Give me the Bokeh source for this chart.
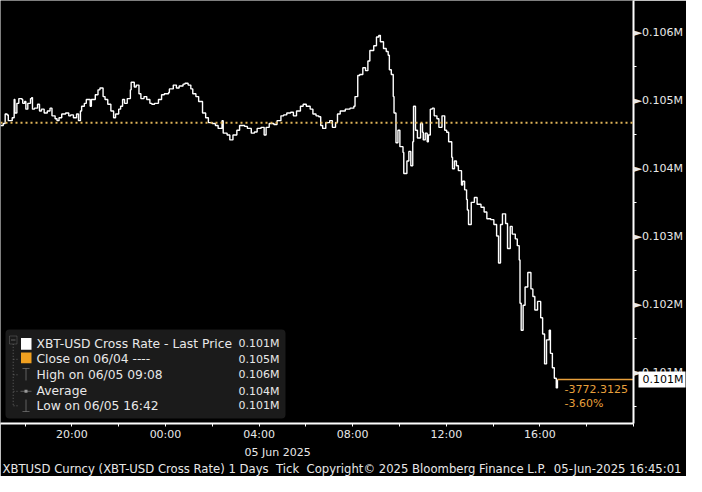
from bokeh.plotting import figure
from bokeh.models import Range1d, FixedTicker, Label, BoxAnnotation, Span, Title, LinearAxis
from bokeh.embed import file_html
from bokeh.resources import INLINE

# ---- data: minutes from 00:00 on 05 Jun 2025 (negative = 04 Jun), XBT-USD price ----
minutes = [
    -423, -416, -411, -406, -403, -393, -388, -386, -381, -376,
    -368, -366, -361, -358, -353, -346, -343, -341, -336, -328,
    -323, -318, -311, -303, -296, -291, -283, -278, -273, -266,
    -256, -248, -243, -236, -228, -223, -218, -215, -208, -203,
    -193, -190, -180, -173, -168, -160, -155, -148, -140, -133,
    -128, -120, -115, -110, -105, -98, -90, -88, -80, -75,
    -68, -63, -55, -48, -40, -35, -28, -18, -10, -3,
    8, 10, 20, 28, 35, 45, 50, 58, 65, 70,
    78, 85, 95, 103, 110, 120, 128, 135, 145, 148,
    158, 165, 173, 183, 190, 203, 210, 220, 228, 235,
    245, 253, 258, 266, 278, 286, 296, 303, 311, 321,
    328, 336, 346, 353, 361, 371, 378, 386, 393, 398,
    403, 411, 421, 428, 436, 441, 448, 461, 473, 483,
    486, 493, 498, 506, 513, 519, 524, 534, 541, 547,
    551, 559, 566, 571, 574, 579, 584, 586, 591, 596,
    601, 609, 611, 619, 624, 629, 634, 636, 641, 646,
    654, 659, 661, 666, 671, 674, 679, 684, 689, 696,
    701, 709, 716, 721, 726, 734, 736, 741, 746, 751,
    759, 762, 767, 772, 774, 777, 784, 792, 799, 809,
    817, 824, 834, 842, 849, 854, 859, 864, 872, 877,
    884, 889, 897, 902, 907, 909, 912, 917, 922, 929,
    937, 942, 947, 954, 962, 967, 972, 977, 984, 987,
    992, 997, 1002, 1005,
]
prices = [
    104636, 104664, 104805, 104790, 104707, 104749, 105017, 104819, 104961, 105031,
    105017, 104961, 104989, 104876, 104961, 105031, 105045, 104876, 104890, 104947,
    104848, 104876, 104819, 104848, 104890, 104777, 104735, 104707, 104749, 104805,
    104819, 104777, 104791, 104749, 104805, 104707, 104848, 104918, 104961, 105017,
    104918, 105017, 105088, 105159, 105187, 105060, 105017, 104947, 104848, 104749,
    104805, 104876, 104918, 105017, 104961, 105031, 105159, 105271, 105201, 105229,
    105102, 105031, 105060, 105017, 104961, 104947, 104961, 105017, 105088, 105102,
    105120, 105173, 105229, 105187, 105215, 105243, 105257, 105229, 105173, 105102,
    105060, 104989, 104819, 104749, 104678, 104664, 104636, 104593, 104707, 104523,
    104495, 104424, 104495, 104565, 104636, 104622, 104593, 104523, 104540, 104593,
    104608, 104495, 104608, 104664, 104650, 104707, 104777, 104791, 104819, 104830,
    104777, 104848, 104918, 104947, 104918, 104876, 104805, 104777, 104763, 104636,
    104593, 104678, 104707, 104608, 104678, 104805, 104848, 104876, 104890, 104918,
    105060, 105370, 105384, 105483, 105441, 105582, 105738, 105808, 105935, 105960,
    105865, 105766, 105723, 105667, 105455, 105384, 105060, 104819, 104382, 104565,
    104325, 104240, 103930, 104113, 104255, 104043, 104396, 104918, 104565, 104452,
    104664, 104537, 104424, 104523, 104396, 104495, 104876, 104890, 104777, 104735,
    104608, 104777, 104565, 104537, 104396, 104170, 104000, 104113, 104043, 103972,
    103760, 103817, 103690, 103548, 103393, 103181, 103506, 103577, 103478, 103435,
    103365, 103266, 103252, 103181, 103012, 102616, 103181, 103337, 103195, 102828,
    103153, 103040, 102969, 102870, 102659, 102023, 101628, 101995, 102263, 102475,
    102235, 102122, 101924, 102051, 101811, 101571, 101133, 101486, 101628, 101288,
    101077, 100921, 100780, 100904,
]

close_price = 104676.3125
last_price = 100904.0
high_price = 105960
average_price = 104350
low_price = 100780
change_abs = "-3772.3125"
change_pct = "-3.60%"

x_start, x_end = -423, 1200
y_low, y_high = 100257, 106472

x_ticks = [-360, -240, -120, 0, 120, 240, 360, 480, 600, 720, 840, 960, 1080, 1200]
x_tick_labels = {-240: "20:00", 0: "00:00", 240: "04:00", 480: "08:00", 720: "12:00", 960: "16:00"}
y_ticks = [100500, 101000, 101500, 102000, 102500, 103000, 103500, 104000, 104500,
           105000, 105500, 106000, 106500]
y_label_ticks = [101000, 102000, 103000, 104000, 105000, 106000]
y_tick_labels = ["0.101M", "0.102M", "0.103M", "0.104M", "0.105M", "0.106M"]

legend_names = ["XBT-USD Cross Rate - Last Price", "Close on 06/04 ----",
                "High on 06/05 09:08", "Average", "Low on 06/05 16:42"]
legend_values = [last_price, close_price, high_price, average_price, low_price]

SP2 = " \u00a0"
footer = ("XBTUSD Curncy (XBT-USD Cross Rate) 1 Days" + SP2 + "Tick" + SP2 +
          "Copyright\u00a9 2025 Bloomberg Finance L.P." + SP2 + "05-Jun-2025 16:45:01")
date_text = "05 Jun 2025"
date_anchor = 240  # 04:00

FONT = "DejaVu Sans"
TXT = "#e8e8e8"
ORANGE = "#e8a03c"
DOTS = "#e0b458"
ICON = "#9a9a9a"
FRAME_W = 634

p = figure(width=686, height=476, x_range=Range1d(x_start, x_end),
           y_range=Range1d(y_low, y_high), output_backend="svg",
           toolbar_location=None, y_axis_location="right",
           background_fill_color="black", border_fill_color="black",
           outline_line_color=None, min_border_left=0, min_border_top=0,
           min_border_right=52, min_border_bottom=50)
p.xgrid.visible = False
p.ygrid.visible = False

for ax in (p.xaxis[0], p.yaxis[0]):
    ax.axis_line_color = "white"
    ax.axis_line_width = 2
    ax.major_tick_line_color = "white"
    ax.major_tick_out = 3
    ax.major_tick_in = 0
    ax.minor_tick_line_color = None
    ax.major_label_text_color = TXT
    ax.major_label_text_font = FONT
    ax.major_label_text_font_size = "11px"

p.xaxis.ticker = FixedTicker(ticks=x_ticks)
p.xaxis.major_label_overrides = {t: x_tick_labels.get(t, "") for t in x_ticks}
p.xaxis.major_label_standoff = 1

# right side, axis 1: the axis line and the small tick marks only
p.yaxis.ticker = FixedTicker(ticks=y_ticks)
p.yaxis.major_label_overrides = {t: "" for t in y_ticks}
p.yaxis.major_label_standoff = 0

# right side, axis 2: the price labels with their pointer triangles
lab_axis = LinearAxis(ticker=FixedTicker(ticks=y_label_ticks),
                      major_label_overrides={t: "\u25ba" + s for t, s in zip(y_label_ticks, y_tick_labels)},
                      axis_line_color=None, major_tick_line_color=None,
                      minor_tick_line_color=None, major_tick_out=0, major_tick_in=0,
                      major_label_standoff=-3, major_label_text_color=TXT,
                      major_label_text_font=FONT, major_label_text_font_size="11px")
p.add_layout(lab_axis, "right")

# right side, axis 3: last price tag (thick white tick drawn back over the labels)
tag = LinearAxis(ticker=FixedTicker(ticks=[last_price]),
                 major_label_overrides={last_price: f"{last_price / 1e6:.3f}M"},
                 axis_line_color=None, major_tick_line_color="white",
                 major_tick_line_width=16, major_tick_out=0, major_tick_in=47,
                 minor_tick_line_color=None, major_label_standoff=-43,
                 major_label_text_color="black", major_label_text_font=FONT,
                 major_label_text_font_size="11px")
p.add_layout(tag, "right")

# close reference line
p.add_layout(Span(location=close_price, dimension="width", line_color=DOTS,
                  line_width=2, line_dash="2 3"))

# price line
p.step(minutes, prices, mode="after", line_color="white", line_width=1.4)

# last-price line to axis
p.segment(x0=[minutes[-1]], y0=[last_price], x1=[x_end], y1=[last_price],
          line_color=ORANGE, line_width=1.5)


def sbox(l, r, b, t, **kw):
    p.add_layout(BoxAnnotation(left=l, right=r, bottom=b, top=t,
                               left_units="screen", right_units="screen",
                               bottom_units="screen", top_units="screen", **kw))


def slabel(x, y, text, color=TXT, align="left", size="12px", **kw):
    p.add_layout(Label(x=x, y=y, x_units="screen", y_units="screen", text=text,
                       text_color=color, text_font=FONT, text_font_size=size,
                       text_align=align, text_baseline="middle", **kw))


# legend panel
sbox(5, 285, 5, 94, fill_color="#1b1b1b", fill_alpha=1, line_color=None, border_radius=4)
rows = [79.6, 64.2, 48.7, 32.2, 17.7]
for y, name, v in zip(rows, legend_names, legend_values):
    slabel(36, y, name, size="12.3px")
    slabel(279, y, f"{v / 1e6:.3f}M", align="right", size="11px")

# legend icons
sbox(9, 16.5, 79.5, 87.5, fill_alpha=0, line_color=ICON, line_width=1)
sbox(10.5, 15, 83.5, 83.5, fill_alpha=0, line_color=ICON, line_width=1)
sbox(20.5, 31, 73.8, 85.4, fill_color="white", fill_alpha=1, line_color=None)
sbox(20.5, 31, 60.3, 71, fill_color="#f0a020", fill_alpha=1, line_color=None)
sbox(12.7, 12.7, 17.7, 79.5, fill_alpha=0, line_color=ICON, line_width=1, line_dash="1 2")
for y in rows[1:]:
    sbox(12.7, 18, y, y, fill_alpha=0, line_color=ICON, line_width=1, line_dash="1 2")
# high icon
sbox(25.5, 25.5, 43, 55, fill_alpha=0, line_color=ICON, line_width=1)
sbox(22, 29, 55, 55, fill_alpha=0, line_color=ICON, line_width=1)
# average icon
sbox(20, 31, 32.2, 32.2, fill_alpha=0, line_color=ICON, line_width=1)
sbox(24, 27, 30.7, 33.7, fill_color=ICON, fill_alpha=1, line_color=None)
# low icon
sbox(25.5, 25.5, 12, 24, fill_alpha=0, line_color=ICON, line_width=1)
sbox(22, 29, 12, 12, fill_alpha=0, line_color=ICON, line_width=1)

# change texts
slabel(564, 34.2, change_abs, color=ORANGE, size="11px")
slabel(564, 19.6, change_pct, color=ORANGE, size="11px")

# date and footer lines below the time axis
date_offset = (date_anchor - x_start) / (x_end - x_start) * FRAME_W - 15
p.add_layout(Title(text=date_text, align="left", offset=date_offset, standoff=0,
                   text_color=TXT, text_font=FONT, text_font_size="11px",
                   text_font_style="normal"), "below")
p.add_layout(Title(text=footer, align="left", offset=2, standoff=2,
                   text_color=TXT, text_font=FONT, text_font_size="11.65px",
                   text_font_style="normal"), "below")

open("out.html", "w").write(file_html(p, INLINE))
